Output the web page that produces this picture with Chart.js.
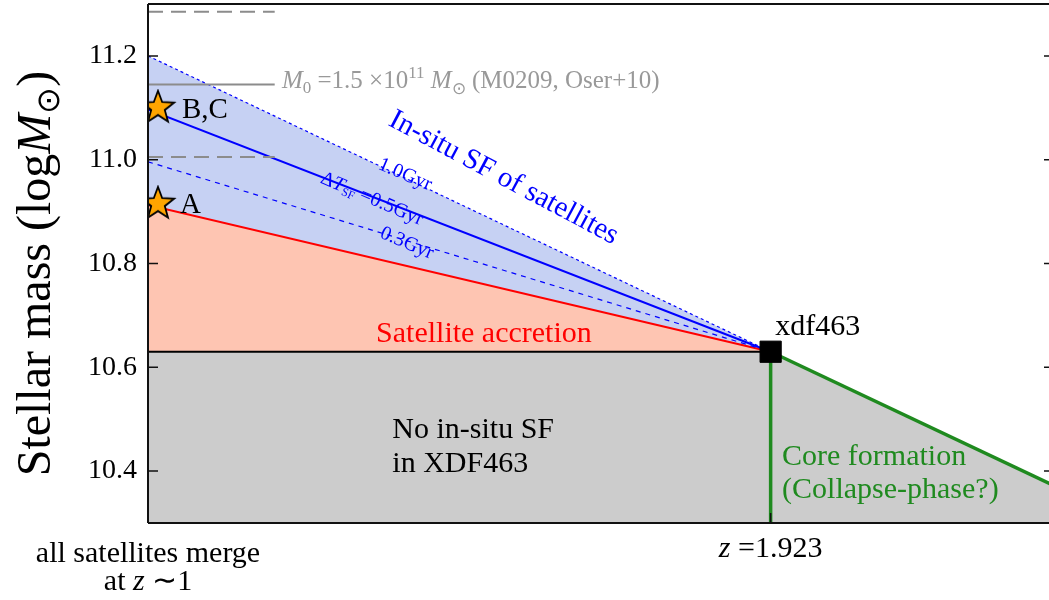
<!DOCTYPE html>
<html>
<head>
<meta charset="utf-8">
<script src="https://cdn.jsdelivr.net/npm/chart.js@4.4.0/dist/chart.umd.min.js"></script>
<style>
html, body { margin: 0; padding: 0; background: #fff; overflow: hidden; }
#wrap { width: 1054px; height: 600px; }
</style>
</head>
<body>
<div id="wrap"><canvas id="massChart"></canvas></div>
<script>
// time axis runs from z~1 (0, all satellites merged) to the right edge (1)
const tMerge = 0;
const tXdf = 0.688;      // z = 1.923
const tEnd = 1;
const tStar = 0.011;

// stellar masses, log Msun
const massXdf = 10.63;
const massAccretion = [10.913, 10.63];
const massSF10 = [11.2, 10.63];
const massSF05 = [11.097, 10.63];
const massSF03 = [10.996, 10.63];
const massCoreEnd = 10.373;
const starNames = ['B,C', 'A'];
const starMasses = [11.10, 10.915];
const m0Mass = 11.145;
const m0Err = 0.14;
const m0Span = [0, 0.14];
const massTicks = [10.4, 10.6, 10.8, 11.0, 11.2];

const serif = '"Liberation Serif", "Times New Roman", serif';
const green = '#1f8a1f';
const blue = '#0000ff';

const xy = (xs, ys) => xs.map((x, i) => ({ x: x, y: ys[i] }));

// filled orange star used as a point style
function makeStar(r) {
    const c = document.createElement('canvas');
    c.width = c.height = 2 * r + 4;
    const g = c.getContext('2d');
    g.translate(r + 2, r + 2);
    g.beginPath();
    for (let i = 0; i < 10; i++) {
        const rad = i % 2 == 0 ? r : r * 0.42;
        const a = -Math.PI / 2 + i * Math.PI / 5;
        g.lineTo(rad * Math.cos(a), rad * Math.sin(a));
    }
    g.closePath();
    g.fillStyle = '#ffa500';
    g.fill();
    g.lineWidth = 1.8;
    g.strokeStyle = '#000';
    g.stroke();
    return c;
}

// draw a line of text made of several font runs
function runs(ctx, x, y, parts, align) {
    let w = 0;
    parts.forEach(p => { ctx.font = p[1]; w += ctx.measureText(p[0]).width; });
    let cx = align == 'center' ? x - w / 2 : x;
    ctx.textAlign = 'left';
    parts.forEach(p => {
        ctx.font = p[1];
        ctx.fillText(p[0], cx, y + (p[2] || 0));
        cx += ctx.measureText(p[0]).width;
    });
}

const annotate = {
    id: 'annotate',
    afterDraw(chart) {
        const ctx = chart.ctx;
        const xs = chart.scales.x, ys = chart.scales.y;
        const a = chart.chartArea;
        const X = v => xs.getPixelForValue(v), Y = v => ys.getPixelForValue(v);
        ctx.save();

        // frame and inward ticks
        ctx.strokeStyle = '#111';
        ctx.lineWidth = 2;
        ctx.beginPath();
        ctx.moveTo(a.left, a.top); ctx.lineTo(a.right, a.top);
        ctx.moveTo(a.left, a.bottom); ctx.lineTo(a.right, a.bottom);
        ctx.moveTo(a.left, a.top); ctx.lineTo(a.left, a.bottom);
        ctx.moveTo(a.right, a.top); ctx.lineTo(a.right, a.bottom);
        ctx.stroke();
        ctx.lineWidth = 1.5;
        ctx.beginPath();
        massTicks.forEach(v => {
            ctx.moveTo(a.left, Y(v)); ctx.lineTo(a.left + 10, Y(v));
            ctx.moveTo(a.right, Y(v)); ctx.lineTo(a.right - 9, Y(v));
        });
        ctx.moveTo(X(tXdf), a.bottom); ctx.lineTo(X(tXdf), a.bottom - 10);
        ctx.stroke();

        ctx.textBaseline = 'alphabetic';
        const f = (s, it) => (it ? 'italic ' : '') + s + 'px ' + serif;

        // y axis title
        ctx.save();
        ctx.translate(50, (a.top + a.bottom) / 2 + 10);
        ctx.rotate(-Math.PI / 2);
        ctx.fillStyle = '#000';
        runs(ctx, 0, 0, [['Stellar mass (log', f(48)], ['M', f(48, true)], ['\u2299', f(32), 9], [')', f(48)]], 'center');
        ctx.restore();

        // x axis labels
        ctx.fillStyle = '#000';
        runs(ctx, X(tXdf), a.bottom + 34, [['z', f(30, true)], [' =1.923', f(30)]], 'center');
        runs(ctx, X(tMerge), a.bottom + 39, [['all satellites merge', f(30)]], 'center');
        runs(ctx, X(tMerge), a.bottom + 67, [['at ', f(30)], ['z', f(30, true)], [' \u223c1', f(30)]], 'center');

        // M0 reference
        ctx.fillStyle = '#999';
        runs(ctx, X(0.148), Y(11.138), [['M', f(25, true)], ['0', f(17), 5], [' =1.5 \u00d710', f(25)], ['11', f(17), -10],
            [' ', f(25)], ['M', f(25, true)], ['\u2299', f(17), 6], [' (M0209, Oser+10)', f(25)]]);

        // star names
        ctx.fillStyle = '#000';
        runs(ctx, X(0.0376), Y(11.08), [[starNames[0], f(29)]]);
        runs(ctx, X(0.0354), Y(10.897), [[starNames[1], f(29)]]);

        // region labels
        ctx.fillStyle = '#ff0000';
        runs(ctx, X(0.252), Y(10.648), [['Satellite accretion', f(30)]]);
        ctx.fillStyle = '#000';
        runs(ctx, X(0.693), Y(10.662), [['xdf463', f(30)]]);
        runs(ctx, X(0.27), Y(10.464), [['No in-situ SF', f(30)]]);
        runs(ctx, X(0.27), Y(10.398), [['in XDF463', f(30)]]);
        ctx.fillStyle = green;
        runs(ctx, X(0.7006), Y(10.412), [['Core formation', f(30)]]);
        runs(ctx, X(0.7006), Y(10.348), [['(Collapse-phase?)', f(30)]]);

        // rotated blue labels along the star-formation tracks
        ctx.fillStyle = blue;
        const tilted = (x, y, deg, parts) => {
            ctx.save();
            ctx.translate(X(x), Y(y));
            ctx.rotate(deg * Math.PI / 180);
            ctx.textBaseline = 'middle';
            runs(ctx, 0, 0, parts, 'center');
            ctx.restore();
        };
        tilted(0.393, 10.965, 28, [['In-situ SF of satellites', f(29)]]);
        tilted(0.284, 10.971, 23, [['1.0Gyr', f(20)]]);
        tilted(0.2475, 10.924, 23, [['\u0394', f(20)], ['T', f(20, true)], ['SF', f(12), 5], [' =0.5Gyr', f(20)]]);
        tilted(0.286, 10.839, 23, [['0.3Gyr', f(20)]]);

        ctx.restore();
    }
};

new Chart(document.getElementById('massChart'), {
    type: 'line',
    data: {
        datasets: [
            { // 1.0 Gyr envelope, filled down to the accretion line
                data: xy([tMerge, tXdf], massSF10),
                fill: 1, backgroundColor: 'rgb(198,209,243)',
                borderColor: blue, borderWidth: 1.2, borderDash: [3, 3],
                order: 10
            },
            { // satellite accretion
                data: xy([tMerge, tXdf], massAccretion),
                fill: { value: massXdf }, backgroundColor: 'rgb(254,197,178)',
                borderColor: '#ff0000', borderWidth: 2,
                order: 9
            },
            { // no in-situ SF below xdf463, core formation to the right
                data: xy([tMerge, tXdf, tEnd], [massXdf, massXdf, massCoreEnd]),
                fill: 'start', backgroundColor: '#cccccc',
                borderColor: '#000', borderWidth: 2,
                segment: {
                    borderColor: c => c.p0DataIndex == 1 ? green : '#000',
                    borderWidth: c => c.p0DataIndex == 1 ? 3.5 : 2
                },
                order: 8
            },
            { // 0.5 Gyr
                data: xy([tMerge, tXdf], massSF05),
                borderColor: blue, borderWidth: 2,
                order: 7
            },
            { // 0.3 Gyr
                data: xy([tMerge, tXdf], massSF03),
                borderColor: blue, borderWidth: 1.2, borderDash: [5, 5],
                order: 6
            },
            { // epoch of xdf463
                data: xy([tXdf, tXdf], [10.3, massXdf]),
                borderColor: green, borderWidth: 3.5,
                order: 5
            },
            { // M0 of M0209 with its error
                data: xy(m0Span, [m0Mass, m0Mass]),
                borderColor: '#8c8c8c', borderWidth: 2,
                order: 4
            },
            {
                data: xy(m0Span, [m0Mass + m0Err, m0Mass + m0Err]),
                borderColor: '#8c8c8c', borderWidth: 2, borderDash: [15, 8],
                order: 4
            },
            {
                data: xy(m0Span, [m0Mass - m0Err, m0Mass - m0Err]),
                borderColor: '#8c8c8c', borderWidth: 2, borderDash: [15, 8],
                order: 4
            },
            { // satellites
                data: xy([tStar, tStar], starMasses),
                showLine: false, pointStyle: makeStar(17), pointRadius: 17,
                order: 2
            },
            { // xdf463
                data: [{ x: tXdf, y: massXdf }],
                showLine: false, pointStyle: 'rect', pointRadius: 15,
                pointBackgroundColor: '#000', pointBorderColor: '#000',
                order: 1
            }
        ]
    },
    options: {
        responsive: true,
        maintainAspectRatio: false,
        animation: false,
        events: [],
        layout: { autoPadding: false, padding: { top: 4, right: 1, left: 0, bottom: 0 } },
        elements: {
            line: { tension: 0 },
            point: { radius: 0 }
        },
        plugins: { legend: { display: false }, tooltip: { enabled: false } },
        scales: {
            x: {
                type: 'linear', min: 0, max: 1,
                grid: { display: false, drawTicks: false },
                border: { display: false },
                ticks: { display: false },
                afterFit: s => { s.height = 77; }
            },
            y: {
                min: 10.3, max: 11.3,
                grid: { display: false, drawTicks: false },
                border: { display: false },
                ticks: {
                    padding: 11, color: '#000',
                    font: { family: serif, size: 28 },
                    callback: v => v.toFixed(1)
                },
                afterBuildTicks: s => { s.ticks = massTicks.map(v => ({ value: v })); },
                afterFit: s => { s.width = 148; s.paddingTop = 0; s.paddingBottom = 0; }
            }
        }
    },
    plugins: [annotate]
});
</script>
</body>
</html>
